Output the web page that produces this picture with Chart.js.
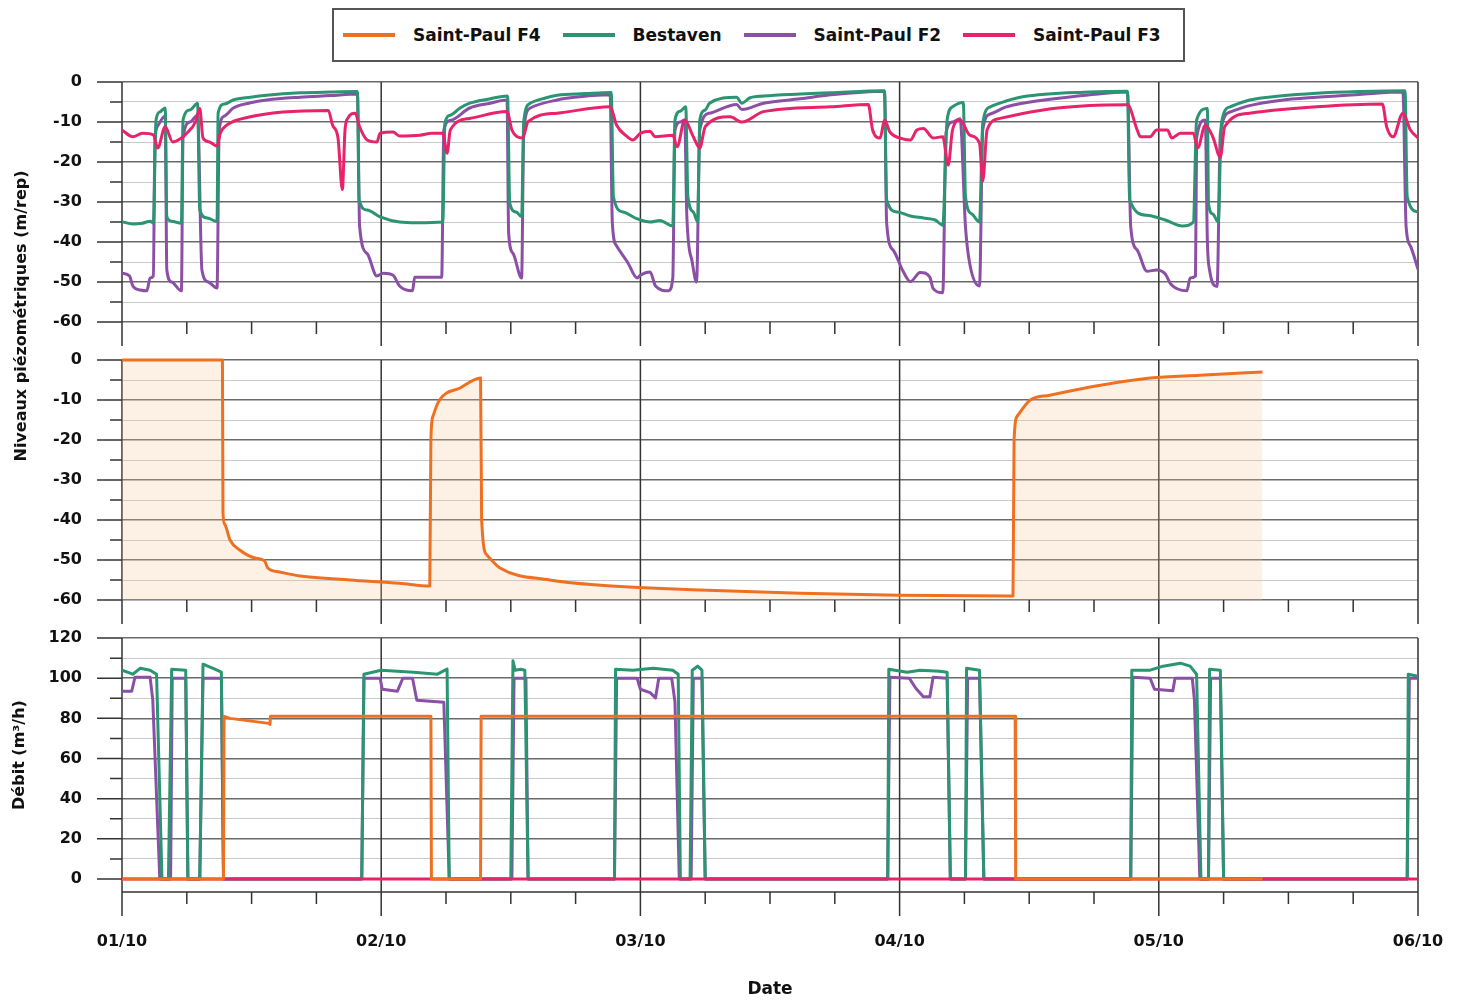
<!DOCTYPE html>
<html>
<head>
  <meta charset="UTF-8">
  <title>Niveaux piézométriques et débits</title>
  <script src="https://cdn.jsdelivr.net/npm/chart.js"></script>
  <style>
    body {
      margin: 0;
      background: #fff;
      font-family: "DejaVu Sans", sans-serif;
    }
    #wrap {
      position: relative;
      width: 1462px;
      height: 1001px;
    }
    #legend {
      position: absolute;
      left: 332px;
      top: 8px;
      width: 853px;
      height: 54px;
      box-sizing: border-box;
      border: 2px solid #555;
      background: #fff;
      display: flex;
      align-items: center;
      padding-left: 9px;
      z-index: 2;
    }
    .item {
      display: flex;
      align-items: center;
      margin-right: 22px;
      font-weight: bold;
      font-size: 17px;
      color: #111;
    }
    .sw {
      width: 52px;
      height: 4px;
      margin-right: 18px;
    }
  </style>
</head>
<body>
<div id="wrap">
  <div id="legend"></div>
  <canvas id="chart" width="1462" height="1001"></canvas>
</div>

<script>
  // time axis in hours from 01/10 00:00
  const dayLabels = ['01/10', '02/10', '03/10', '04/10', '05/10', '06/10'];
  const levelTicks = [0, -10, -20, -30, -40, -50, -60];
  const flowTicks = [0, 20, 40, 60, 80, 100, 120];

  const stations = ['Saint-Paul F4', 'Bestaven', 'Saint-Paul F2', 'Saint-Paul F3'];
  const colors = ['#f07022', '#2a9473', '#8c4fa6', '#e8236b'];

  // niveaux piezometriques (m/rep), [heure, valeur]
  const bestavenLevel = [[0,-34.9],[1.0,-35.5],[1.9,-35.3],[2.6,-34.8],[2.9,-35.3],[3.15,-9.5],[3.5,-7.5],[4.0,-6.5],[4.15,-33.7],[4.6,-34.8],[5.5,-35.3],[5.65,-9.5],[6.3,-7],[7.0,-5.3],[7.2,-32],[7.9,-34],[8.8,-34.9],[8.9,-7.8],[9.5,-5.5],[10.3,-4.5],[11.9,-3.8],[13.4,-3.3],[16.5,-2.7],[19.3,-2.5],[21.8,-2.4],[21.95,-29.5],[22.7,-32],[23.9,-33.7],[25.7,-35],[27.3,-35.2],[29.7,-35],[29.9,-10.3],[30.4,-8.3],[31.3,-6.5],[32.2,-5.3],[34.1,-4.2],[35.7,-3.5],[35.9,-30.3],[36.5,-32.5],[37.0,-33.7],[37.2,-9.8],[37.8,-5.3],[39.2,-4],[40.3,-3.3],[42.9,-2.9],[45.3,-2.6],[45.5,-28.7],[46.4,-32.5],[47.7,-34.2],[48.9,-35],[49.8,-34.6],[51.0,-36],[51.2,-9.5],[51.7,-7.3],[52.2,-6.2],[52.4,-28.7],[52.9,-32.5],[53.3,-35],[53.5,-9.5],[54.0,-7],[54.4,-5.3],[56.9,-3.8],[57.4,-5.3],[58.1,-4],[59.4,-3.5],[62.8,-3],[65.6,-2.7],[70.6,-2.2],[70.8,-29.5],[71.8,-32.5],[73.0,-33.5],[74.2,-34],[75.3,-34.5],[76.0,-35.8],[76.4,-9.5],[76.9,-6.2],[77.9,-5.1],[78.1,-28.7],[78.7,-33],[79.4,-35],[79.7,-10.3],[80.4,-6.2],[81.8,-4.8],[83.4,-3.7],[89.6,-2.5],[93.1,-2.3],[93.3,-29.5],[94.9,-33.3],[96.6,-34.5],[98.2,-36],[99.2,-35],[99.5,-9.5],[100.5,-6.6],[100.6,-30.3],[101.0,-33],[101.5,-35],[101.8,-10.3],[102.6,-6.2],[104.4,-4.5],[107.2,-3.5],[110.6,-2.8],[114.6,-2.4],[118.8,-2.2],[119.0,-28.7],[120,-32.5]];

  const f2Level = [[0,-47.8],[0.7,-48.5],[1.0,-51],[1.7,-52],[2.3,-52.2],[2.6,-49],[2.9,-48.5],[3.05,-15],[3.3,-11],[4.0,-8.5],[4.15,-47],[4.6,-50],[5.5,-52.2],[5.65,-14],[6.3,-10],[7.0,-8.3],[7.4,-47],[8.0,-50],[8.8,-51.5],[9.0,-12],[9.5,-8.5],[10.3,-6.5],[11.9,-5.2],[13.4,-4.5],[16.5,-3.8],[19.3,-3.4],[21.8,-3],[22.0,-36],[22.7,-42.9],[23.6,-48.5],[24.2,-47.8],[25.1,-48.3],[25.7,-51],[26.9,-52.2],[27.1,-48.8],[29.6,-48.8],[29.8,-12],[30.4,-9.6],[32.2,-6.5],[34.1,-5.3],[35.65,-4.5],[35.8,-37.8],[36.2,-42.8],[37.0,-49],[37.2,-12],[37.8,-6.5],[40.3,-4.5],[42.4,-3.7],[45.2,-3.2],[45.4,-35.2],[45.8,-41],[46.8,-45],[47.7,-49],[48.0,-48.3],[48.9,-47.5],[49.4,-51],[50.6,-52.2],[51.0,-49],[51.2,-12],[51.7,-10],[52.1,-9.5],[52.3,-33.5],[52.8,-45],[53.2,-50],[53.5,-12],[54.4,-7.8],[56.9,-5.6],[57.4,-6.9],[59.4,-5.3],[62.8,-4.2],[65.6,-3.2],[70.6,-2.3],[70.8,-35.2],[71.4,-42],[72.3,-47.2],[73.0,-49.9],[73.9,-47.6],[74.8,-48.8],[75.1,-51.6],[76.0,-52.7],[76.3,-12.7],[76.9,-10],[77.6,-9.2],[78.1,-36.2],[78.5,-45.5],[79.4,-51],[79.7,-12],[80.4,-8],[81.8,-6.3],[83.4,-5.3],[89.6,-3.2],[93.1,-2.5],[93.4,-36.2],[94.0,-42],[94.9,-47.3],[95.8,-47],[96.6,-48],[97.1,-50.5],[98.6,-52.2],[98.9,-49],[99.4,-48.5],[99.5,-14],[100.3,-9.5],[100.5,-40],[100.7,-47],[101.4,-51.1],[101.7,-13],[102.6,-7.5],[104.4,-5.9],[107.2,-4.6],[110.6,-3.8],[114.6,-3.1],[118.6,-2.5],[118.9,-36.2],[119.3,-41],[120,-46.8]];

  const f3Level = [[0,-12],[1.0,-13.7],[1.9,-12.8],[2.9,-13.2],[3.3,-16.5],[4.0,-11.2],[4.7,-15],[5.4,-14.2],[6.0,-12.8],[6.8,-10],[7.2,-6.6],[7.5,-14],[8.1,-15],[8.8,-16],[9.1,-12.8],[9.7,-10.8],[11.9,-8.7],[14.9,-7.5],[19.1,-7.1],[19.5,-10.8],[20.0,-14],[20.4,-26.9],[20.65,-12],[20.9,-9.1],[21.6,-7.8],[22.0,-11.2],[22.7,-14.5],[23.6,-15],[23.9,-12.8],[25.1,-12.5],[25.7,-13.5],[27.6,-13.3],[28.7,-12.8],[29.7,-12.8],[30.1,-17.8],[30.4,-12],[32.2,-9.1],[35.65,-7.4],[36.1,-12],[36.6,-13.7],[37.1,-14],[37.6,-9.9],[40.3,-7.8],[45.2,-6.2],[45.8,-10.8],[46.8,-13.7],[47.3,-14.5],[48.0,-12.8],[48.9,-12.3],[49.35,-13.7],[51.0,-13.3],[51.4,-16.2],[52.1,-9.5],[52.9,-13.7],[53.5,-16.5],[54.0,-11.2],[56.3,-8.7],[57.4,-10],[59.4,-7.4],[65.6,-6.2],[69.1,-5.6],[69.5,-12],[70.2,-14],[70.6,-9.5],[71.1,-12.5],[72.3,-14.2],[73.0,-14.5],[73.6,-12],[74.2,-11.6],[75.1,-14],[76.0,-13.7],[76.5,-20.8],[76.9,-12],[77.6,-9.5],[78.5,-13.3],[79.4,-15.3],[79.7,-24.8],[80.1,-12],[81.3,-9.1],[85.0,-7.1],[89.6,-5.9],[93.1,-5.7],[94.0,-12],[94.3,-13.7],[95.2,-13.7],[95.8,-12],[96.8,-12],[97.2,-14],[98.0,-12.8],[99.2,-12.8],[99.6,-16.5],[100.3,-10.8],[101.0,-13.7],[101.7,-18.8],[102.1,-11.2],[104.4,-7.8],[110.6,-6.2],[116.7,-5.5],[117.1,-11.2],[117.7,-13.7],[118.6,-7.8],[119.3,-12],[120,-14]];

  const f4Level = [[0,0],[9.3,0],[9.35,-38],[9.5,-41],[10.0,-45],[10.9,-47.5],[12.3,-49.5],[13.2,-50.2],[13.5,-52],[14.6,-53],[16.5,-54],[21.1,-55],[25.7,-55.8],[28.5,-56.5],[28.6,-20],[28.8,-14],[29.4,-10],[31.3,-7],[33.2,-4.5],[33.3,-40],[33.8,-48.8],[35.0,-52],[39.6,-55],[44.3,-56.3],[53.5,-57.5],[62.8,-58.3],[72.0,-58.8],[82.5,-59],[82.6,-20],[82.9,-14],[84.1,-10],[85.9,-8.8],[90.6,-6.3],[95.2,-4.5],[99.8,-3.8],[105.6,-3]];

  // debits (m3/h), [heure, valeur]
  const bestavenFlow = [[0,104],[1.0,102],[1.7,105],[2.6,104],[3.2,102],[3.7,0],[4.3,0],[4.6,104.5],[5.9,104],[6.1,0],[7.2,0],[7.5,107],[8.6,104.5],[9.2,103],[9.4,0],[22.2,0],[22.4,102],[24.0,104],[27.0,103],[29.2,102],[30.1,104.5],[30.3,0],[36.0,0],[36.2,108.7],[36.4,104],[36.9,104.5],[37.3,104],[37.6,0],[45.6,0],[45.7,104.5],[47.3,104],[49.2,105],[51.0,104],[51.5,102],[51.7,0],[52.6,0],[52.8,104],[53.3,106],[53.7,104],[54.0,0],[70.9,0],[71.0,104.5],[72.7,103],[73.9,104],[75.7,103.5],[76.4,103],[76.7,0],[78.1,0],[78.2,105],[79.4,104],[79.8,0],[93.4,0],[93.5,104],[95.2,104],[96.4,106],[98.0,107.5],[98.9,106],[99.5,102],[99.9,0],[100.6,0],[100.7,104.5],[101.7,104],[102.0,0],[119.0,0],[119.1,102],[120,101]];

  const f2Flow = [[0,93.5],[0.9,93.5],[1.2,100.5],[2.6,100.5],[2.85,89.3],[3.5,0],[4.5,0],[4.65,100],[5.9,100],[6.1,0],[7.2,0],[7.5,100],[9.2,100],[9.4,0],[22.2,0],[22.4,100],[23.9,100],[24.1,94.5],[25.5,93.5],[26.0,100],[26.9,100],[27.3,89],[29.8,88],[30.3,0],[36.1,0],[36.3,100],[37.4,100],[37.6,0],[45.6,0],[45.8,100],[47.7,100],[48.0,94.5],[48.9,92.8],[49.4,90.2],[49.7,100],[50.9,100],[51.2,88.3],[51.6,0],[52.7,0],[52.9,100],[53.7,100],[54.0,0],[70.9,0],[71.1,100.5],[72.9,100],[73.5,95],[74.2,90.8],[74.8,90.8],[75.1,100.5],[76.4,100],[76.7,0],[78.1,0],[78.3,100],[79.4,100],[79.8,0],[93.4,0],[93.6,100.5],[95.2,100],[95.6,94.5],[97.3,93.7],[97.5,100],[99.1,100],[99.3,89],[99.8,0],[100.6,0],[100.8,100],[101.7,100],[102.0,0],[119.0,0],[119.2,100],[120,100]];

  const f3Flow = [[0,0],[120,0]];

  const f4Flow = [[0,0],[9.4,0],[9.45,81],[10.0,80],[13.6,77.5],[13.7,77],[13.75,81],[28.6,81],[28.65,0],[33.2,0],[33.25,81],[82.7,81],[82.75,0],[105.6,0]];

  const toXY = arr => arr.map(p => ({x: p[0], y: p[1]}));

  function withMinor(majors) {
    const out = [];
    majors.forEach((v, i) => {
      out.push({value: v, major: true});
      if (i < majors.length - 1) out.push({value: (v + majors[i + 1]) / 2, major: false});
    });
    return out;
  }

  function line(label, data, color, axis, order, extra) {
    return Object.assign({
      label: label,
      data: toXY(data),
      borderColor: color,
      backgroundColor: color,
      borderWidth: 3,
      pointRadius: 0,
      tension: 0,
      fill: false,
      yAxisID: axis,
      order: order,
      borderJoinStyle: 'round'
    }, extra || {});
  }

  const smooth = {cubicInterpolationMode: 'monotone'};

  // legend
  document.getElementById('legend').innerHTML = stations.map((s, i) =>
    `<div class="item"><span class="sw" style="background:${colors[i]}"></span>${s}</div>`
  ).join('');

  // axis lines, tick marks, titles
  const frame = {
    id: 'frame',
    beforeDatasetsDraw(chart) {
      const {ctx, chartArea, scales} = chart;
      const left = chartArea.left, right = chartArea.right;
      const panels = [
        {s: scales.yP, top: 0, base: scales.yP.getPixelForValue(-60), ticks: withMinor(levelTicks)},
        {s: scales.yF4, top: 0, base: scales.yF4.getPixelForValue(-60), ticks: withMinor(levelTicks)},
        {s: scales.yQ, top: 120, base: chartArea.bottom, ticks: withMinor(flowTicks)}
      ];
      ctx.save();
      ctx.strokeStyle = '#333';
      ctx.lineWidth = 1.5;
      panels.forEach(p => {
        const yTop = p.s.getPixelForValue(p.top);
        ctx.beginPath();
        for (let h = 0; h <= 120; h += 6) {
          const px = scales.x.getPixelForValue(h);
          if (h % 24 === 0) {
            ctx.moveTo(px, yTop);
            ctx.lineTo(px, p.base + 24);
          } else {
            ctx.moveTo(px, p.base);
            ctx.lineTo(px, p.base + 12);
          }
        }
        p.ticks.forEach(t => {
          const py = p.s.getPixelForValue(t.value);
          ctx.moveTo(left - (t.major ? 25 : 12), py);
          ctx.lineTo(left, py);
        });
        ctx.stroke();
      });
      ctx.beginPath();
      ctx.moveTo(left, chartArea.bottom);
      ctx.lineTo(right, chartArea.bottom);
      ctx.stroke();

      ctx.fillStyle = '#111';
      ctx.font = 'bold 16px "DejaVu Sans"';
      ctx.textAlign = 'center';
      ctx.textBaseline = 'middle';
      ctx.translate(22, 316);
      ctx.rotate(-Math.PI / 2);
      ctx.fillText('Niveaux piézométriques (m/rep)', 0, 0);
      ctx.restore();

      ctx.save();
      ctx.fillStyle = '#111';
      ctx.font = 'bold 16px "DejaVu Sans"';
      ctx.textAlign = 'center';
      ctx.textBaseline = 'middle';
      ctx.translate(20, 755);
      ctx.rotate(-Math.PI / 2);
      ctx.fillText('Débit (m³/h)', 0, 0);
      ctx.restore();
    }
  };

  const tickFont = {family: 'DejaVu Sans', size: 16, weight: 'bold'};

  function yAxis(min, max, majors, weight) {
    return {
      type: 'linear',
      position: 'left',
      stack: 'panels',
      stackWeight: weight,
      min: min,
      max: max,
      border: {display: false},
      grid: {
        drawTicks: false,
        color: c => (c.tick && c.tick.major) ? '#6a6a6a' : '#c9c9c9',
        lineWidth: c => (c.tick && c.tick.major) ? 1.5 : 1
      },
      afterBuildTicks: s => { s.ticks = withMinor(majors); },
      afterFit: s => { s.width = 122; },
      ticks: {
        padding: 40,
        color: '#111',
        font: tickFont,
        autoSkip: false,
        callback: (v, i, t) => t[i].major ? String(v) : ''
      }
    };
  }

  // order: lower value is drawn on top
  new Chart(document.getElementById('chart'), {
    type: 'line',
    data: {
      datasets: [
        line(stations[0], f4Level, colors[0], 'yF4', 0, Object.assign({
          fill: {value: -60},
          backgroundColor: 'rgba(248, 200, 150, 0.25)'
        }, smooth)),
        line(stations[3], f3Level, colors[3], 'yP', 1, smooth),
        line(stations[1], bestavenLevel, colors[1], 'yP', 2, smooth),
        line(stations[2], f2Level, colors[2], 'yP', 3, smooth),
        line(stations[0], f4Flow, colors[0], 'yQ', 0),
        line(stations[3], f3Flow, colors[3], 'yQ', 1),
        line(stations[1], bestavenFlow, colors[1], 'yQ', 2),
        line(stations[2], f2Flow, colors[2], 'yQ', 3)
      ]
    },
    options: {
      responsive: false,
      animation: false,
      layout: {padding: {top: 82, right: 44, bottom: 0, left: 0}},
      plugins: {
        legend: {display: false},
        tooltip: {enabled: false}
      },
      scales: {
        x: {
          type: 'linear',
          position: 'bottom',
          min: 0,
          max: 120,
          grid: {
            display: true,
            drawOnChartArea: false,
            drawTicks: true,
            tickLength: 38,
            tickColor: 'rgba(0,0,0,0)'
          },
          border: {display: false},
          afterBuildTicks: s => { s.ticks = dayLabels.map((d, i) => ({value: i * 24})); },
          afterFit: s => { s.height = 109; },
          ticks: {
            padding: 2,
            color: '#111',
            font: tickFont,
            maxRotation: 0,
            autoSkip: false,
            callback: (v, i) => dayLabels[i]
          },
          title: {
            display: true,
            text: 'Date',
            color: '#111',
            font: {family: 'DejaVu Sans', size: 17, weight: 'bold'},
            padding: {top: 0, bottom: 1}
          }
        },
        yQ: yAxis(-6.5, 129.5, flowTicks, 273),
        yF4: yAxis(-64.75, 4.75, levelTicks, 278),
        yP: yAxis(-64.75, 0, levelTicks, 259)
      }
    },
    plugins: [frame]
  });
</script>
</body>
</html>
